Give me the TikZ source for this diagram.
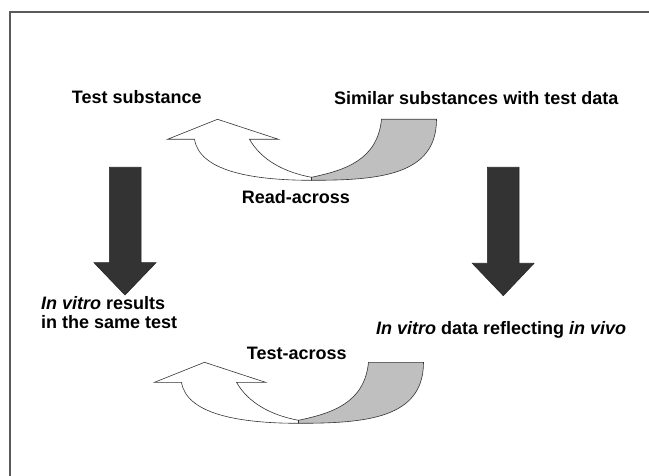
\documentclass[tikz,border=0pt]{standalone}
\usepackage{fontspec}
\setmainfont{Liberation Sans}
\definecolor{darkarrow}{RGB}{51,51,51}
\definecolor{bandgray}{RGB}{191,191,191}
\definecolor{framegray}{RGB}{90,90,90}
\tikzset{
  lbl/.style={inner sep=0pt, font=\fontsize{18}{18.5}\selectfont\bfseries, anchor=base west},
  downarrow/.style={fill=darkarrow, draw=black!85, line width=0.6pt},
  band/.style={draw=black!80, line width=0.6pt, line join=miter},
  % curved "up" arrow: grey back band on the right, white front band with head on the left
  curvedup/.pic={
    \path[band, fill=bandgray] (70,-58) -- (125,-58)
      .. controls (125,-2) and (68,3) .. (0,3) -- (0,0)
      .. controls (33,-7) and (66,-17) .. (70,-58) -- cycle;
    \path[band, fill=white] (0,3)
      .. controls (-62,3) and (-112,-7) .. (-117,-38)
      -- (-144,-38) -- (-94,-58) -- (-33,-38) -- (-62,-38)
      .. controls (-50,-17) and (-27,-5) .. (0,0) -- cycle;
  }
}
\begin{document}
\begin{tikzpicture}[x=1pt, y=-1pt]
  \useasboundingbox (0,0) rectangle (649,476);
  % frame
  \draw[framegray, line width=1.5pt] (10,476) -- (10,12) -- (649,12);

  % labels
  \node[lbl] (test) at (71.7,104) {Test substance};
  \node[lbl] (similar) at (334,104.5) {Similar substances with test data};
  \node[lbl] (read) at (241.7,203.3) {Read-across};
  \node[lbl, align=left, anchor=base west] (invitro) at (41,328.3)
    {\textit{In vitro} results\\in the same test};
  \node[lbl] (testacross) at (246.7,359.3) {Test-across};
  \node[lbl] (reflect) at (376,334.3) {\textit{In vitro} data reflecting \textit{in vivo}};

  % curved arrows
  \pic (readarrow) at (311.5,177.3) {curvedup};
  \pic (testarrow) at (298.5,420.3) {curvedup};

  % down arrows
  \draw[downarrow] (109.3,167.3) -- (141,167.3) -- (141,262.7) -- (156,262.7)
    -- (125,295) -- (94,262.7) -- (109.3,262.7) -- cycle;
  \draw[downarrow] (487.3,167.3) -- (519,167.3) -- (519,263.3) -- (534,263.3)
    -- (503.3,295.7) -- (472.3,263.3) -- (487.3,263.3) -- cycle;
\end{tikzpicture}
\end{document}
